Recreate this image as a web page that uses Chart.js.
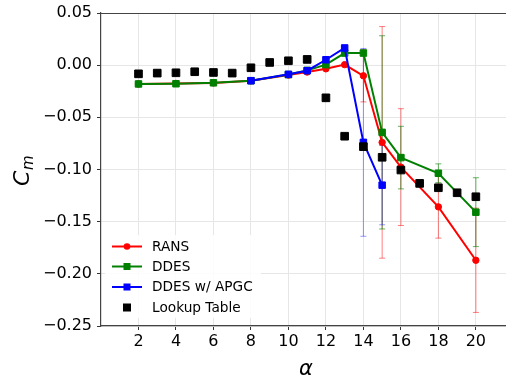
<!DOCTYPE html>
<html><head><meta charset="utf-8">
<script src="https://cdn.jsdelivr.net/npm/chart.js@4/dist/chart.umd.min.js"></script>
<style>html,body{margin:0;padding:0;background:#fff;overflow:hidden}#wrap{width:506px;height:379px;position:relative;overflow:hidden}</style>
</head><body><div id="wrap"><canvas id="c" width="513" height="379"></canvas></div>
<script>
const xTicks = [2, 4, 6, 8, 10, 12, 14, 16, 18, 20];
const yTicks = [0.05, 0.00, -0.05, -0.10, -0.15, -0.20, -0.25];
const seriesNames = ['RANS', 'DDES', 'DDES w/ APGC', 'Lookup Table'];

const ransX = [2, 4, 6, 8, 10, 11, 12, 13, 14, 15, 16, 18, 20];
const ransY = [-0.018, -0.0175, -0.017, -0.015, -0.0095, -0.0066, -0.0035, 0.0005, -0.0102, -0.074, -0.0977, -0.1358, -0.187];
const ransErr = [0, 0, 0, 0, 0, 0, 0, 0, 0.025, 0.111, 0.056, 0.030, 0.050];

const ddesX = [2, 4, 6, 8, 10, 11, 12, 13, 14, 15, 16, 18, 20];
const ddesY = [-0.018, -0.0178, -0.0169, -0.0149, -0.009, -0.005, 0.0005, 0.0116, 0.0116, -0.0644, -0.0886, -0.1036, -0.1409];
const ddesErr = [0, 0, 0, 0, 0, 0, 0, 0, 0, 0.0926, 0.030, 0.009, 0.033];

const apgcX = [8, 10, 11, 12, 13, 14, 15];
const apgcY = [-0.0149, -0.0088, -0.0053, 0.0052, 0.0165, -0.074, -0.115];
const apgcErr = [0, 0, 0, 0, 0, 0.09, 0.038];

const lookupX = [2, 3, 4, 5, 6, 7, 8, 9, 10, 11, 12, 13, 14, 15, 16, 17, 18, 19, 20];
const lookupY = [-0.0083, -0.0076, -0.0073, -0.0063, -0.007, -0.0076, -0.0025, 0.0026, 0.0042, 0.0055, -0.0313, -0.0681, -0.0781, -0.0883, -0.1005, -0.1133, -0.1175, -0.1223, -0.1261];

const colors = ['#ff0000', '#008000', '#0000ff', '#000000'];
const errColors = ['rgba(255,0,0,0.5)', 'rgba(0,128,0,0.6)', 'rgba(0,0,255,0.4)', null];

function pts(xs, ys) { return xs.map((x, i) => ({x: x, y: ys[i]})); }

const errorBars = {
  id: 'errorBars',
  beforeDatasetsDraw(chart) {
    const ctx = chart.ctx, xs = chart.scales.x, ys = chart.scales.y;
    chart.data.datasets.forEach((ds, di) => {
      if (!ds.err) return;
      ctx.save();
      ctx.strokeStyle = errColors[di];
      ctx.lineWidth = 1;
      ds.data.forEach((p, i) => {
        const e = ds.err[i];
        if (!e) return;
        const px = xs.getPixelForValue(p.x);
        const y1 = ys.getPixelForValue(p.y + e), y2 = ys.getPixelForValue(p.y - e);
        ctx.beginPath();
        ctx.moveTo(px, y1); ctx.lineTo(px, y2);
        ctx.moveTo(px - 3, y1); ctx.lineTo(px + 3, y1);
        ctx.moveTo(px - 3, y2); ctx.lineTo(px + 3, y2);
        ctx.stroke();
      });
      ctx.restore();
    });
  }
};

const decor = {
  id: 'decor',
  afterDraw(chart) {
    const ctx = chart.ctx, a = chart.chartArea;
    ctx.save();
    // top spine
    ctx.strokeStyle = '#444';
    ctx.lineWidth = 1.2;
    ctx.beginPath(); ctx.moveTo(a.left, a.top + 0.5); ctx.lineTo(a.right, a.top + 0.5); ctx.stroke();
    // legend box
    ctx.fillStyle = 'rgba(255,255,255,0.85)';
    ctx.fillRect(105, 235, 156, 83);
    const rows = [246.5, 266.5, 287, 307.5];
    ctx.font = '13.7px "DejaVu Sans"';
    ctx.textBaseline = 'middle';
    rows.forEach((ry, i) => {
      ctx.fillStyle = colors[i];
      ctx.strokeStyle = colors[i];
      if (i < 3) {
        ctx.lineWidth = 2;
        ctx.beginPath(); ctx.moveTo(112, ry); ctx.lineTo(142, ry); ctx.stroke();
      }
      if (i === 0) {
        ctx.beginPath(); ctx.arc(127, ry, 3.3, 0, Math.PI * 2); ctx.fill();
      } else if (i === 3) {
        ctx.fillRect(123, ry - 4, 8, 8);
      } else {
        ctx.fillRect(123.5, ry - 3.5, 7, 7);
      }
      ctx.fillStyle = '#000';
      ctx.fillText(seriesNames[i], 152, ry + 0.5);
    });
    // axis titles
    ctx.fillStyle = '#000';
    ctx.textAlign = 'center';
    ctx.textBaseline = 'alphabetic';
    ctx.font = 'italic 21px "DejaVu Sans"';
    ctx.fillText('\u03b1', 306, 375);
    ctx.translate(29, 172);
    ctx.rotate(-Math.PI / 2);
    ctx.textAlign = 'left';
    ctx.font = 'italic 22px "DejaVu Sans"';
    ctx.fillText('C', -14, 0);
    ctx.font = 'italic 15px "DejaVu Sans"';
    ctx.fillText('m', 2, 4);
    ctx.restore();
  }
};

const lineDs = (label, xs, ys, err, idx, style, radius, order) => ({
  label: label,
  data: pts(xs, ys),
  err: err,
  borderColor: colors[idx],
  backgroundColor: colors[idx],
  borderWidth: 2,
  pointStyle: style,
  pointRadius: radius,
  pointBorderWidth: 1,
  pointHoverRadius: radius,
  showLine: true,
  tension: 0,
  order: order
});

new Chart(document.getElementById('c'), {
  type: 'scatter',
  data: {
    datasets: [
      lineDs(seriesNames[0], ransX, ransY, ransErr, 0, 'circle', 3.2, 4),
      lineDs(seriesNames[1], ddesX, ddesY, ddesErr, 1, 'rect', 4.6, 3),
      lineDs(seriesNames[2], apgcX, apgcY, apgcErr, 2, 'rect', 4.6, 2),
      {
        label: seriesNames[3],
        data: pts(lookupX, lookupY),
        borderColor: colors[3],
        backgroundColor: colors[3],
        pointStyle: 'rect',
        pointRadius: 5.4,
        pointBorderWidth: 1,
        showLine: false,
        order: 1
      }
    ]
  },
  options: {
    responsive: false,
    animation: false,
    devicePixelRatio: 1,
    layout: { padding: { top: 13, right: 0, left: 0, bottom: 0 } },
    plugins: { legend: { display: false }, tooltip: { enabled: false } },
    scales: {
      x: {
        type: 'linear',
        min: 0, max: 21.64,
        afterBuildTicks(s) { s.ticks = xTicks.map(v => ({value: v})); },
        afterFit(s) { s.height = 53; s.paddingRight = 0; s.paddingLeft = 0; },
        grid: { color: '#e6e6e6', lineWidth: 1, tickColor: '#333', tickLength: 4, drawTicks: true },
        border: { color: '#444', width: 1.2 },
        ticks: { color: '#000', font: { family: 'DejaVu Sans', size: 16 }, padding: 2, maxRotation: 0, autoSkip: false }
      },
      y: {
        type: 'linear',
        min: -0.25, max: 0.05,
        afterBuildTicks(s) { s.ticks = yTicks.map(v => ({value: v})); },
        afterFit(s) { s.width = 101; s.paddingTop = 0; s.paddingBottom = 0; },
        grid: { color: '#e6e6e6', lineWidth: 1, tickColor: '#333', tickLength: 4 },
        border: { color: '#444', width: 1.2 },
        ticks: {
          color: '#000', font: { family: 'DejaVu Sans', size: 16 }, padding: 5, autoSkip: false,
          callback: v => (v < -1e-9 ? '\u2212' : '') + Math.abs(v).toFixed(2)
        }
      }
    }
  },
  plugins: [errorBars, decor]
});
</script>
</body></html>
